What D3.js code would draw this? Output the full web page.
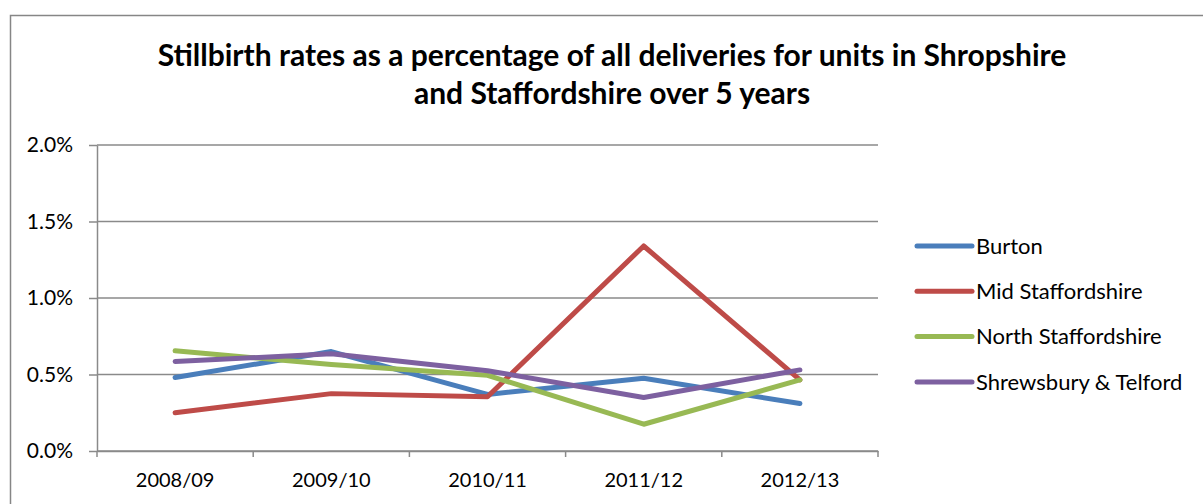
<!DOCTYPE html>
<html><head><meta charset="utf-8">
<script src="https://cdn.jsdelivr.net/npm/d3@7"></script>
<style>
html,body{margin:0;padding:0;background:#fff;}
svg{display:block;font-family:Lato,"Open Sans",sans-serif;}
</style></head>
<body><svg id="c" width="1203" height="504"></svg>
<script>
const titleLines = ["Stillbirth rates as a percentage of all deliveries for units in Shropshire","and Staffordshire over 5 years"];
const categories = ["2008/09","2009/10","2010/11","2011/12","2012/13"];
const seriesNames = ["Burton","Mid Staffordshire","North Staffordshire","Shrewsbury & Telford"];
const burton = [0.48, 0.65, 0.37, 0.475, 0.31];
const midStaffs = [0.25, 0.375, 0.355, 1.34, 0.465];
const northStaffs = [0.655, 0.565, 0.495, 0.175, 0.465];
const shrewsbury = [0.585, 0.635, 0.525, 0.35, 0.53];
const yTicks = [0, 0.5, 1.0, 1.5, 2.0];
const colors = ["#4A7EBB","#BE4B48","#98B954","#7D60A0"];

const seriesValues = [burton, midStaffs, northStaffs, shrewsbury];
const svg = d3.select("#c");

// outer chart border
svg.append("rect").attr("x",10.5).attr("y",15.5).attr("width",1300).attr("height",600)
  .attr("fill","none").attr("stroke","#868686").attr("stroke-width",1.5);

const L=97, R=878, T=145, B=451;
const x = d3.scaleBand().domain(categories).range([L,R]);
const y = d3.scaleLinear().domain([0,2.0]).range([B,T]);

// title
svg.append("g").selectAll("text").data(titleLines).join("text")
  .attr("x",612).attr("y",(d,i)=>66+i*38).attr("text-anchor","middle")
  .attr("font-weight","bold").attr("font-size",30).attr("fill","#000").text(d=>d);

// gridlines
svg.append("g").selectAll("line").data(yTicks).join("line")
  .attr("x1",L).attr("x2",R).attr("y1",d=>y(d)).attr("y2",d=>y(d))
  .attr("stroke","#8a8a8a").attr("stroke-width",1.5);

// y axis
const ya = svg.append("g").attr("transform",`translate(${L},0)`)
  .call(d3.axisLeft(y).tickValues(yTicks).tickFormat(d=>d.toFixed(1)+"%").tickSize(8).tickSizeOuter(0).tickPadding(16));
ya.select(".domain").attr("stroke","#8a8a8a").attr("stroke-width",1.5);
ya.selectAll(".tick line").attr("stroke","#8a8a8a").attr("stroke-width",1.5);
ya.selectAll("text").attr("font-size",21).attr("fill","#000").attr("font-family","Lato");

// x axis
const xa = svg.append("g").attr("transform",`translate(0,${B})`)
  .call(d3.axisBottom(x).tickSize(0).tickPadding(22));
xa.select(".domain").attr("stroke","#8a8a8a").attr("stroke-width",1.5);
xa.selectAll("text").attr("font-size",20).attr("fill","#000").attr("font-family","Lato");
const bounds = [L].concat(categories.map(c=>x(c)+x.bandwidth()));
xa.selectAll(".bt").data(bounds).join("line").attr("class","bt")
  .attr("x1",d=>d).attr("x2",d=>d).attr("y1",0).attr("y2",6)
  .attr("stroke","#8a8a8a").attr("stroke-width",1.5);

// lines
const line = d3.line().x((d,i)=>x(categories[i])+x.bandwidth()/2).y(d=>y(d));
svg.append("g").selectAll("path").data(seriesValues).join("path")
  .attr("d",d=>line(d)).attr("fill","none").attr("stroke",(d,i)=>colors[i])
  .attr("stroke-width",5).attr("stroke-linecap","round").attr("stroke-linejoin","round");

// legend
const lg = svg.append("g").selectAll("g").data(seriesNames).join("g")
  .attr("transform",(d,i)=>`translate(917,${246+i*45.3})`);
lg.append("line").attr("x1",0).attr("x2",55).attr("y1",0).attr("y2",0)
  .attr("stroke",(d,i)=>colors[i]).attr("stroke-width",5).attr("stroke-linecap","round");
lg.append("text").attr("x",59).attr("y",0).attr("dy","0.35em").attr("font-size",22)
  .attr("fill","#000").text(d=>d);
</script></body></html>
